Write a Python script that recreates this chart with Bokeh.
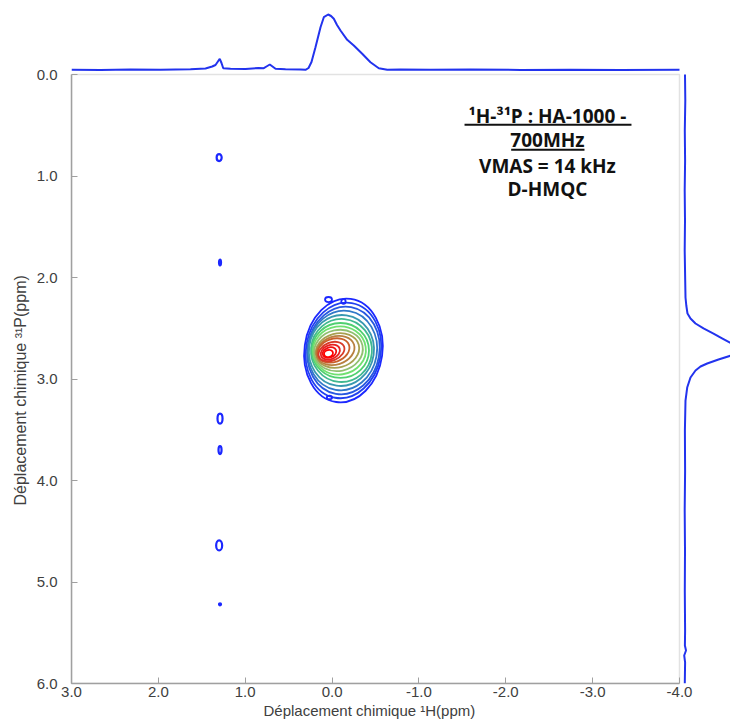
from bokeh.plotting import figure
from bokeh.models import Range1d, FixedTicker, Label, BoxAnnotation, ColumnDataSource, Title
from bokeh.embed import file_html
from bokeh.resources import INLINE
import math

# ---------------- data ----------------
x_ticks = [3.0, 2.0, 1.0, 0.0, -1.0, -2.0, -3.0, -4.0]
x_tick_labels = ["3.0", "2.0", "1.0", "0.0", "-1.0", "-2.0", "-3.0", "-4.0"]
y_ticks = [0.0, 1.0, 2.0, 3.0, 4.0, 5.0, 6.0]
y_tick_labels = ["0.0", "1.0", "2.0", "3.0", "4.0", "5.0", "6.0"]

# 1H projection (top)
top_ppm = [3.0, 2.666, 2.321, 1.975, 1.630, 1.457, 1.380, 1.342, 1.293, 1.273, 1.253, 1.169,
           0.997, 0.847, 0.786, 0.755, 0.717, 0.686, 0.651, 0.536, 0.363, 0.306, 0.271, 0.237,
           0.191, 0.133, 0.095, 0.045, 0.012, -0.020, -0.057, -0.097, -0.174, -0.250, -0.347,
           -0.442, -0.538, -0.635, -0.788, -1.133, -1.594, -2.169, -2.745, -3.321, -4.0]
top_int = [0.3, 0.0, 0.5, 0.3, 0.8, 1.5, 3.5, 5.0, 11.2, 7.0, 1.8, 1.2,
           1.0, 2.0, 1.8, 3.5, 5.5, 3.5, 1.2, 0.8, 0.5, 0.2, 2.0, 8.0,
           22.8, 42.8, 52.8, 55.5, 54.0, 51.2, 45.0, 39.5, 30.2, 24.5, 16.2,
           7.8, 1.8, 0.2, 0.5, 0.2, 0.4, 0.1, 0.3, 0.0, 0.2]

# 31P projection (right)
right_ppm = [0.0, 0.256, 0.552, 0.847, 1.143, 1.438, 1.734, 2.030, 2.197, 2.276, 2.355, 2.404,
             2.453, 2.502, 2.552, 2.601, 2.650, 2.709, 2.768, 2.808, 2.847, 2.877, 2.916, 2.985,
             3.084, 3.212, 3.507, 3.901, 4.296, 4.690, 5.084, 5.478, 5.626, 5.675, 5.724, 5.793, 6.0]
right_int = [0.5, 0.8, 0.3, 0.6, 0.2, 0.5, 0.2, 0.7, 1.0, 1.8, 3.0, 6.0,
             11.0, 19.0, 29.0, 38.0, 47.0, 60.0, 47.0, 34.0, 22.7, 16.0, 11.0, 6.0,
             2.7, 1.0, 0.4, 0.6, 0.2, 0.5, 0.3, 0.6, 0.4, 1.5, -0.3, 0.6, 0.3]

# main correlation peak: contour levels (outer -> inner)
cont_x = [-0.131, -0.131, -0.131, -0.120, -0.108, -0.108, -0.097, -0.085,
          -0.074, -0.062, -0.039, -0.016, 0.007, 0.020, 0.030, 0.041]
cont_y = [2.719, 2.719, 2.719, 2.719, 2.719, 2.719, 2.719, 2.719,
          2.719, 2.719, 2.719, 2.719, 2.729, 2.735, 2.739, 2.749]
cont_w = [0.898, 0.863, 0.829, 0.794, 0.748, 0.702, 0.656, 0.610,
          0.564, 0.507, 0.449, 0.380, 0.311, 0.230, 0.161, 0.104]
cont_h = [1.025, 0.946, 0.867, 0.788, 0.700, 0.621, 0.542, 0.473,
          0.404, 0.335, 0.276, 0.227, 0.177, 0.138, 0.099, 0.069]
cont_angle = [-8, -10, -10, -10, -8, -5, 0, 8, 12, 15, 18, 20, 22, 22, 20, 15]
cont_color = ["#1c28ff", "#2040f0", "#2858e0", "#3078c8", "#3898b0", "#40b890",
              "#50d070", "#70e070", "#90c070", "#a8a050", "#b88040", "#c8602a",
              "#d83a28", "#e82020", "#f01010", "#ff0000"]

# small islands of the lowest level
isl_x = [0.041, -0.131, 0.030]
isl_y = [2.217, 2.236, 3.182]
isl_w = [0.080, 0.050, 0.060]
isl_h = [0.050, 0.045, 0.035]

# weak cross peaks at ~1.3 ppm
weak_x = [1.30, 1.29, 1.29, 1.29, 1.30, 1.29]
weak_y = [0.818, 1.852, 3.390, 3.700, 4.640, 5.220]
weak_w = [0.058, 0.023, 0.058, 0.035, 0.069, 0.023]
weak_h = [0.069, 0.059, 0.099, 0.079, 0.099, 0.020]

note_lines = ["\u00b9H-\u00b3\u00b9P : HA-1000 -", "700MHz", "VMAS = 14 kHz", "D-HMQC"]
note_x = -2.48
note_y = [0.404, 0.650, 0.906, 1.133]
underline_left = [-1.525, -2.062]
underline_right = [-3.447, -2.906]
underline_y = [0.496, 0.742]

x_label = "D\u00e9placement chimique \u00b9H(ppm)"
y_label = "D\u00e9placement chimique \u00b3\u00b9P(ppm)"

# ---------------- layout (pixels) ----------------
BLUE = "#2233ee"
GRAY = "#a0a0a0"
LABEL_COLOR = "#404040"
W, H = 730, 721
LEFT, RIGHT, TOP, BOTTOM = 71, 0, 0, 38
frame_w = W - LEFT - RIGHT
frame_h = H - TOP - BOTTOM
box_w = 608               # width of the 3..-4 ppm box in px
box_top = 74              # px from frame top down to 0 ppm
x_per_px = 7.0 / box_w
y_per_px = 6.0 / (frame_h - box_top)

xr = Range1d(3.0, 3.0 - frame_w * x_per_px)
yr = Range1d(6.0, -box_top * y_per_px)

p = figure(width=W, height=H, x_range=xr, y_range=yr,
           output_backend="svg", toolbar_location=None,
           min_border_left=LEFT, min_border_right=RIGHT, min_border_top=TOP,
           min_border_bottom=BOTTOM)
p.grid.visible = False
p.outline_line_color = None
p.background_fill_color = "white"
p.border_fill_color = "white"

# projection ranges: 1 unit = 1 px, baseline offsets in px
top_base = box_top - 4.5          # px from frame top to the 1H projection baseline
p.extra_y_ranges = {"proj_top": Range1d(-(frame_h - top_base), top_base)}
right_base = box_w + 5            # px from frame left to the 31P projection baseline
p.extra_x_ranges = {"proj_right": Range1d(-right_base, frame_w - right_base)}

for ax in (p.xaxis[0], p.yaxis[0]):
    ax.axis_line_color = GRAY
    ax.axis_line_width = 1.5
    ax.major_tick_line_color = GRAY
    ax.major_tick_in = 6
    ax.major_tick_out = 0
    ax.minor_tick_line_color = None
    ax.major_label_text_font = "Liberation Sans"
    ax.major_label_text_font_size = "15px"
    ax.major_label_text_color = LABEL_COLOR

p.xaxis.ticker = FixedTicker(ticks=x_ticks)
p.xaxis.major_label_overrides = dict(zip(x_ticks, x_tick_labels))
p.xaxis.bounds = (min(x_ticks), max(x_ticks))
p.yaxis.ticker = FixedTicker(ticks=y_ticks)
p.yaxis.major_label_overrides = dict(zip(y_ticks, y_tick_labels))
p.yaxis.bounds = (min(y_ticks), max(y_ticks))
p.xaxis.major_label_standoff = 3
p.yaxis.major_label_standoff = 14

# axis titles (as side titles so that they can sit centred on the ppm box)
p.add_layout(Title(text=x_label, align="left", offset=192, standoff=0,
                   text_font="Liberation Sans", text_font_size="15px",
                   text_font_style="normal", text_color=LABEL_COLOR), "below")
p.add_layout(Title(text=y_label, align="left", offset=178, standoff=10,
                   text_font="Liberation Sans", text_font_size="16px",
                   text_font_style="normal", text_color=LABEL_COLOR), "left")

# plot box (top and right edges)
p.add_layout(BoxAnnotation(left=max(x_ticks), right=min(x_ticks), top=min(y_ticks),
                           bottom=max(y_ticks), fill_alpha=0, line_color=GRAY,
                           line_width=1.5))

cs = ColumnDataSource(dict(x=cont_x, y=cont_y, w=cont_w, h=cont_h,
                           a=[math.radians(v) for v in cont_angle], c=cont_color))
p.ellipse(x="x", y="y", width="w", height="h", angle="a", source=cs,
          fill_color=None, line_color="c", line_width=1.8)
p.ellipse(x=isl_x, y=isl_y, width=isl_w, height=isl_h,
          fill_color=None, line_color="#1c28ff", line_width=1.8)
p.ellipse(x=weak_x, y=weak_y, width=weak_w, height=weak_h,
          fill_color=None, line_color="#1c28ff", line_width=2.2)

# projections
p.line(top_ppm, top_int, line_color=BLUE, line_width=2, y_range_name="proj_top")
p.line(right_int, right_ppm, line_color=BLUE, line_width=2, x_range_name="proj_right")

for txt, ty in zip(note_lines, note_y):
    p.add_layout(Label(x=note_x, y=ty, text=txt, text_align="center", text_baseline="middle",
                       text_font="Open Sans", text_font_style="bold", text_font_size="19px",
                       text_color="#111111"))
for l, r, uy in zip(underline_left, underline_right, underline_y):
    p.add_layout(BoxAnnotation(left=l, right=r, top=uy - 0.01, bottom=uy + 0.01,
                               fill_color="#111111", fill_alpha=1.0, line_color=None))

open("out.html", "w").write(file_html(p, INLINE))
